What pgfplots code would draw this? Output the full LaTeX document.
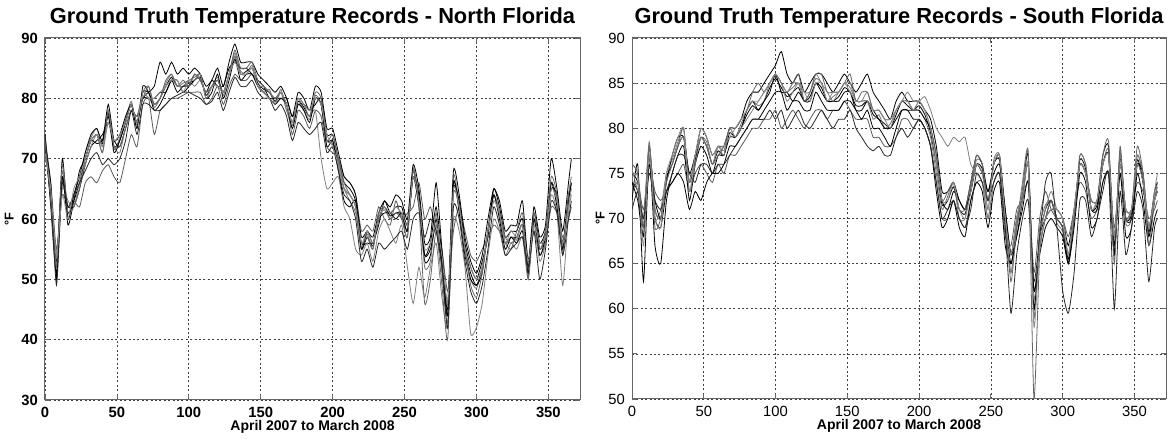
\documentclass[border=0pt]{standalone}
\usepackage{fontspec}
\setmainfont{Liberation Sans}
\usepackage{pgfplots}
\usepackage{pgfplotstable}
\pgfplotsset{compat=1.18}

% Daily temperature records (F), sampled every 4 days, ten stations per region
\pgfplotstableread{
x    c     s1    s2    s3    s4    s5    s6    s7    s8    s9
0    73    73.5  72    70    74    73    72.5  73    74    71
4    64    65    63    66    62    64    66    63    64.5  65
8    53    52    54    55    51    53.5  50    52    49    54
12   67    68    66    64    70    65    67    69    66    64
16   61    60    62    62    60    63    59    61    62    60
20   63    64    62    63    64    62    63    62    64    65
24   66    67    65    62    67    66    68    65    66    67
28   70    71    69    66    71    69    70    70    68    70
32   73    73.5  72    67    74    72    73    73    70    73
36   74    75    73    66    75    74    72.5  74    71    74
40   72.5  72    74    68    73    71    73    71    69    72
44   77.5  78    76    69    79    76    77    78    70    76
48   72    71.5  73    67    73    72    71    72    69    73
52   73    73.5  72    66    74    71    73    72    70    74
56   76    76.5  75    70    77    75    76    75    73    76
60   79    79.5  78    74    79    78    79    78    78    79
64   76    75.5  77    72    76    77    75    77    74    76
68   81    81    80    79    80    81    82    80    79    81
72   81    82    80    80    81    80    81    82    79    80
76   79    78.5  80    74    82    79    78    79    78    80
80   80    80    81    78    86    80    79    80    78    81
84   82    82.5  81    79    84    82    81    83    79    82
88   83.5  84    83    80    86    83    83    84    80    83
92   82    82    83    80    84    82    81    82    80.5  83
96   82    82.5  81    80.5  85    82    82    83    81    81
100  82.5  83    82    81    84    83    82    82    81    83
104  83    83.5  84    81    85    82    83    84    80.5  83
108  83.5  84    83    81    84    83    84    83    80    84
112  80.5  80    81    79    82    81    80    81    79    80
116  82    82    83    80    83    82    81    82    79.5  82
120  83    83.5  82    82    85    83    84    83    81    82
124  81    80.5  82    79    82    81    80    81    78    81
128  84    84    85    82    86    84    83    84    81    84
132  87    87.5  86    84    89    87    86.5  88    83.5  86
136  84    84.5  85    83    86    84    83    85    82    84
140  84.5  84    85    83    86    84    84    85    82    84
144  85    85.5  84    84    86    85    84    86    83    85
148  82.5  82    83    82    84    82    82    83    81    82
152  81.5  81    82    81    83    82    81    82    80    81
156  81    81.5  80    80    82    81    80    81    80    80
160  79.5  79    80    79    81    80    79    80    78    79
164  81    81.5  80    80    82    81    80    81    79    81
168  79    78    80    79    80    78    79    79    77    79
172  76    75.5  77    74    77    76    75    76    73    76
176  79.5  80    79    78    81    79    79    80    76    80
180  78.5  78    79    77    80    78    78    79    75    79
184  77    76.5  78    75    78    77    76    77    74    78
188  80    80.5  79    78    82    78    80    81    75    80
192  79    79    80    77    81    70    79    80    76    79
196  73    73    74    72    75    65    72    73    71    74
200  73    72.5  74    71    75    66    73    74    72    72
204  69    69    70    70    71    67    68    70    68    69
208  65    65    66    67    67    62    63    66    64    65
212  64    63    65    66    66    60    62    64    63    64
216  62    61    63    64    64    55    63    62    60    62
220  55    55    56    58    57    54    55    56    53    56
224  57    57.5  56    59    58    56    58    57    55    58
228  55.5  55    56    58    57    53    56    55    52    56
232  60    60.5  59    62    61    58    60    61    56    60
236  62    61.5  63    60    63    60    61    62    55    62
240  60.5  60    61    59    62    58    61    60    56    61
244  61    61    62    63    64    56    60    61    57    62
248  61    60.5  62    60    63    59    61    60    58    61
252  58    57    59    61    60    52    58    57    55    59
256  68    68.5  67    62    69    46    67    68    60    67
260  63    63    64    66    65    52    62    62    61    63
264  53    52    54    60    56    47    54    46    57    55
268  54    53    55    62    57    52    56    50    60    56
272  60    61    59    58    66    56    62    58    58    59
276  52    51    53    55    55    47    54    49    52    54
280  44    43    45    48    46    42    44    40    42    46
284  66    67    65    58    68    60    66    64    62    65
288  62    62    63    62    64    58    61    62    60    62
292  55    55    56    58    57    52    54    55    53    55
296  51    50    52    54    53    41    50    49    48    52
300  49    48.5  50    53    51    42    49    47    46    50
304  52    52    53    55    54    46    51    51    49    52
308  58    58.5  57    57    60    54    58    58    55    58
312  64    64    65    59    65    60    64    63    62    63
316  61    61    62    58    63    58    60    61    59    61
320  56    56    57    56    58    54    55    57    54    56
324  57    57    58    55    59    56    57    56    55    58
328  57    56.5  58    58    59    55    56    57    56    57
332  59    59    60    61    63    57    58    59    57    59
336  51    50.5  52    53    53    50    51    50    52    53
340  60    60    61    58    62    59    60    61    58    59
344  55    55    56    54    57    53    54    55    50    56
348  57    57    58    56    59    56    57    58    55    57
352  66    66    65    62    70    64    66    67    63    65
356  63    63    64    61    65    61    62    64    61    63
360  55    55    56    57    58    49    55    54    54    56
364  63    63    64    60    66    61    63    64    60    62
366  66    66    65    62    70    64    66    67    63    65
}\north

\pgfplotstableread{
x    c     s1    s2    s3    s4    s5    s6    s7    s8    s9
0    75    76    74    73    72    75.5  74    76    71    75
4    74    75    73    74    76    73    72    75    73    74.5
8    69    70    68    71    63    70    68    69    70    67
12   78    78.5  77    76    77    78    76    78    75    77
16   71    70    72    73    67    71    70    69    72    70
20   70    71    70    72    65    70    69    70    71    69
24   74.5  75    74    73    72    75    73    74    73    75
28   76    76.5  77    74    75    76    74    76    75    77
32   78    78.5  79    75    77    78    75    78    77    79
36   79    80    79    76    78    79    74    80    77    80
40   74    74    75    73    72    74    71    73    75    73
44   76.5  77    77    75    76    77    73    76    74    77
48   79    79    80    76    78    79    72    79    76    80
52   78    78.5  79    75    77    78    74    78    76    79
56   76    76    77    74    75    76    75    76    75    77
60   77.5  78    78    76    77    78    75    77    76    78
64   77    77.5  78    75    77    77    76    78    76    78
68   79.5  80    80    77    79    80    78    80    77    79
72   79    79    80    77    79    79    78    80    78    80
76   80    80.5  81    78    80    80    79    81    79    81
80   81.5  82    83    79    82    81    80    82    80    82
84   82.5  83    84    80    83    82    81    84    81    83
88   82    82.5  84    80    82    83    81    85    81    83
92   83    83    85    81    83    84    82    84    81    84
96   84.5  85    86    81    84    85    83    85    82    85
100  85.5  86    87    82    86    86    84    86    81    86
104  84.5  84    88.5  80    84    85    84    85    82    85
108  83.5  84    86    81    84    83    82    84    80    84
112  84    84.5  85    82    83    84    83    85    81    85
116  84.5  85    86    81    84    85    83    86    82    85
120  83    83    84    80    83    84    82    83    80.5  84
124  83.5  84    85    81    83    84    82    84    80    83
128  85    85.5  86    82    85    86    84    86    81    85
132  84.5  85    86    82    84    85    83    86    82    85
136  83    83    85    81    83    84    82    84    81    83
140  83    83.5  84    82    83    83    82    84    80    84
144  83.5  84    85    82    83    84    82    84    81    84
148  84.5  85    86    83    84    85    83    85    81    85
152  84    84.5  85    82    84    85    83    86    82    84
156  82.5  83    84    81    82    83    82    83    80    83
160  82.5  83    85    81    82    83    81    84    79    83
164  83    83    86    81    83    84    82    84    78    83
168  81.5  81    84    79    82    82    80    82    77.5  82
172  81    81.5  83    79    81    82    80    82    78    82
176  80.5  80    82    78    80    81    79    81    77    81
180  80    80.5  81    78    80    80    78    81    77    81
184  81.5  82    83    79    81    82    80    82    79    82
188  83    83    84    81    82    83    82    83    80    83
192  82.5  83    83    81    82    84    82    83    79    83
196  82    82    83    80    82    83    81    82    80    82
200  82.5  82    83    81    82    83    81    83    81    83
204  81.5  81    82    80    81    83.5  80    82    80    82
208  79.5  79    81    78    80    82    78    80    78    80
212  76    75    78    74    77    80    73    77    74    76
216  71.5  71    73    70    72    79    69    72    70    72
220  72    72.5  73    70    71    78    70    73    71    72
224  73.5  74    74    72    73    79    72    74    72    74
228  71    70    72    70    72    78.5  69    71    70    71
232  70.5  70    71    69    71    79    68    71    69    70
236  73    73.5  74    72    73    76    72    74    71    73
240  76    76.5  77    74    76    75    74    77    75    76
244  75.5  76    76    74    75    74    73    76    74    75
248  72    71    73    70    73    70    69    72    72    71
252  76    76.5  76    74    75    74    73    76    74    76
256  76.5  77    77    75    76    75    74    77    75    77
260  70    69    71    68    71    70    67    70    69    70
264  65    64    66    67    66    64    65    63    59.5  66
268  69    69    70    71    68    69    68    69    66    70
272  73    74    73    72    72    72    71    73    70    73
276  77    77.5  76    74    76    76    74    77    72    76
280  60    59    62    64    60    61    62    50    63    58
284  68    69    67    70    68    68    66    66    68    67
288  71    71.5  70    73    70    71    69    70    74    70
292  72    72    71    71    72    73    70    72    75    71
296  70    69.5  71    70    70    71    69    70    69    71
300  69    68.5  70    70    69    70    68    69    62    70
304  65.5  65    67    68    65    66    65    66    59.5  66
308  70    70    71    71    70    71    69    70    64    71
312  76.5  77    76    74    76    76    75    77    72    76
316  75.5  76    75    73    75    75    74    76    72    75
320  71    71    72    70    71    72    69    71    68    71
324  71.5  72    72    71    71    72    70    72    70    72
328  76    76    77    74    76    76    74    77    73    76
332  77    77.5  78    75    77    77    75    78.5  75    77
336  67    66    68    69    66    68    66    65    60    68
340  77    77.5  76    75    77    77    75    78    73    76
344  70    69.5  71    70    70    71    68    70    66    71
348  70.5  70    71    71    70    71    69    71    69    71
352  76.5  77    76    74    76    77    75    78    73    76
356  74    74.5  75    73    74    75    72    75    71    74
360  68.5  68    69    70    68    69    67    67    63    69
364  72    72    73    71    72    73    70    72    69    72
366  73    73.5  74    72    73    75    71    74    70    73
}\south

\pgfplotsset{
  tempaxis/.style={
    scale only axis,
    anchor=south west,
    xmin=0, xmax=372,
    xtick={0,50,...,350},
    grid=major,
    grid style={black!75, line width=0.35pt, dash pattern=on 1pt off 1.2pt},
    axis line style={black!60, line width=0.5pt},
    tick style={black!60, line width=0.4pt},
    tick align=inside,
    major tick length=2.5pt,
    /pgf/number format/assume math mode=true,
    title style={font=\fontsize{10.9}{12}\selectfont\bfseries, yshift=-4.5pt},
    xlabel style={font=\fontsize{7}{8}\selectfont\bfseries, yshift=5.5pt},
    ylabel style={font=\fontsize{6.4}{7}\selectfont\bfseries},
    xlabel={April 2007 to March 2008},
    ylabel={\textdegree F},
    cycle list={{black},{black!55},{black},{black!65},{black},{black!50},{black},{black!60},{black!85},{black!45}},
    every axis plot/.append style={line width=0.4pt, mark=none, smooth, tension=0.35},
  },
}

\begin{document}
\begin{tikzpicture}
\useasboundingbox (0pt,0pt) rectangle (587.5pt,219.5pt);

\begin{axis}[tempaxis,
  at={(22.5pt,19.5pt)}, width=267.5pt, height=181pt,
  ymin=30, ymax=90, ytick={30,40,...,90},
  ticklabel style={font=\fontsize{7.4}{8}\selectfont\bfseries},
  ylabel style={yshift=-3pt},
  title={Ground Truth Temperature Records - North Florida}]
\pgfplotsinvokeforeach{c,s1,s2,s3,s4,s5,s6,s7,s8,s9}{
  \addplot table[x=x, y=#1] {\north};
}
\end{axis}

\begin{axis}[tempaxis,
  at={(316pt,20pt)}, width=267pt, height=180.5pt,
  ymin=50, ymax=90, ytick={50,55,...,90},
  ticklabel style={font=\fontsize{7.4}{8}\selectfont},
  ylabel style={yshift=-5pt},
  title={Ground Truth Temperature Records - South Florida}]
\pgfplotsinvokeforeach{c,s1,s2,s3,s4,s5,s6,s7,s8,s9}{
  \addplot table[x=x, y=#1] {\south};
}
\end{axis}
\end{tikzpicture}
\end{document}
